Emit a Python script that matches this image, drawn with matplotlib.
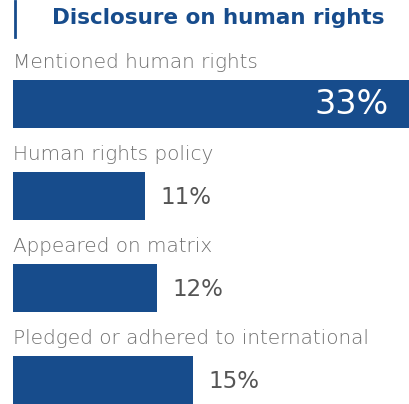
import matplotlib
matplotlib.use("Agg")
import matplotlib.pyplot as plt
from matplotlib.lines import Line2D

title = "Disclosure on human rights"
categories = [
    "Mentioned human rights",
    "Human rights policy",
    "Appeared on matrix",
    "Pledged or adhered to international",
]
values = [33, 11, 12, 15]

BLUE = "#174c8c"
LABEL_GRAY = "#6e6e6e"
VALUE_GRAY = "#555555"
FONT = "DejaVu Sans"

W, H = 410, 404
fig = plt.figure(figsize=(W / 100, H / 100), dpi=100)
fig.patch.set_facecolor("white")

# Bars live in an axes spanning the full height; rows are spaced 92 px apart
ax = fig.add_axes([13 / W, 0, 1 - 13 / W, 1])
ax.set_xlim(0, max(values))
ax.set_ylim((H - 104) / 92, -104 / 92)
ax.axis("off")

ypos = list(range(len(categories)))
ax.barh(ypos, values, height=48 / 92, color=BLUE, align="center")

for i, (cat, v) in enumerate(zip(categories, values)):
    ax.annotate(cat, xy=(0, i), xytext=(0, 42), textcoords="offset pixels",
                ha="left", va="center", fontsize=14.4, color=LABEL_GRAY,
                family=FONT, fontweight="light")
    if v == max(values):
        ax.annotate(f"{v}%", xy=(v, i), xytext=(-21, -1), textcoords="offset pixels",
                    ha="right", va="center", fontsize=24, color="white",
                    family=FONT)
    else:
        ax.annotate(f"{v}%", xy=(v, i), xytext=(15, -1), textcoords="offset pixels",
                    ha="left", va="center", fontsize=16.5, color=VALUE_GRAY,
                    family=FONT)

# Title with a vertical accent rule on its left
fig.add_artist(Line2D([15 / W, 15 / W], [1 - 1 / H, 1 - 37 / H],
                      color=BLUE, linewidth=2, transform=fig.transFigure))
fig.text(52 / W, 1 - 18 / H, title, ha="left", va="center", fontsize=15.5,
         fontweight="bold", color=BLUE, family=FONT)

fig.savefig("out.png", dpi=100, facecolor="white")
